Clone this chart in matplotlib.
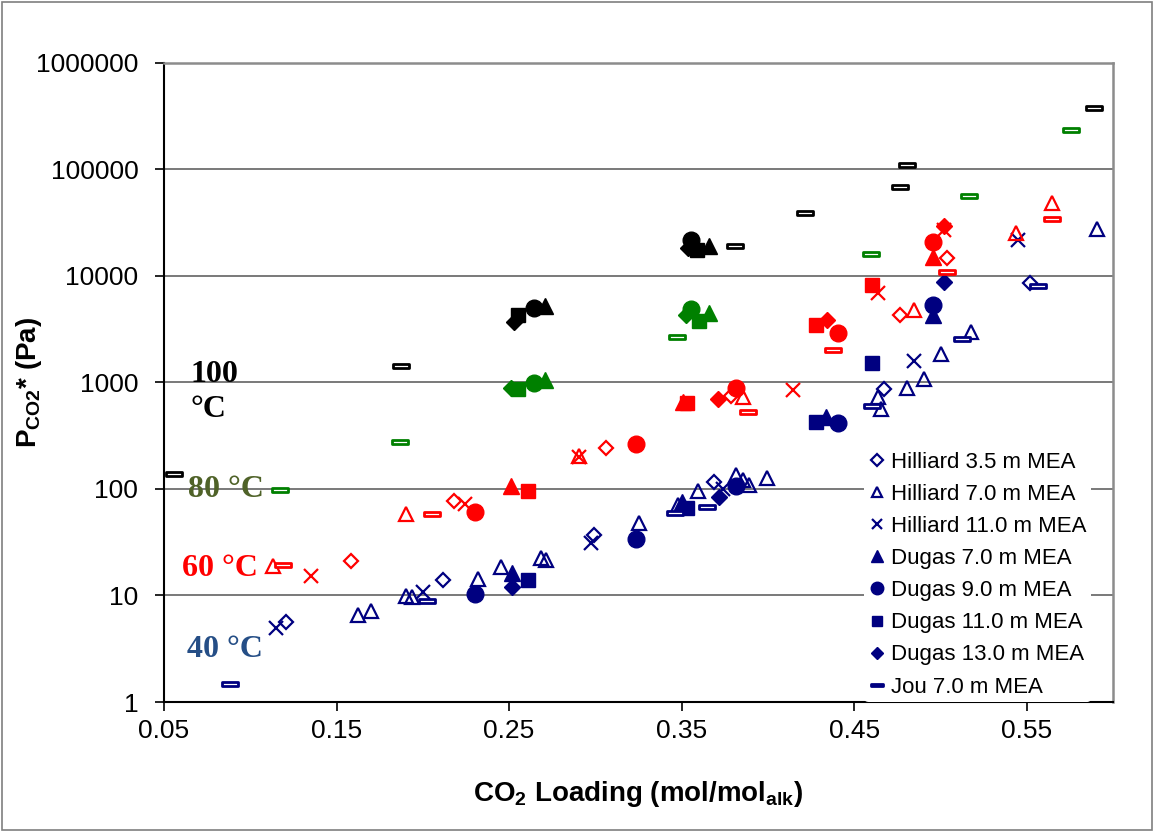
import matplotlib
matplotlib.use("Agg")
import matplotlib.pyplot as plt
from matplotlib.path import Path
from matplotlib.patches import Rectangle
from matplotlib.ticker import NullLocator

plt.rcParams.update({
    "font.family": "Liberation Sans",
    "mathtext.fontset": "custom",
    "mathtext.rm": "Liberation Sans:bold",
    "mathtext.bf": "Liberation Sans:bold",
})

# (loading, P_CO2*)
# 40 C
hill35_40 = [(0.1209, 5.6), (0.2115, 14), (0.2993, 37), (0.3688, 117), (0.4671, 869), (0.5516, 8540)]
hill70_40 = [(0.1623, 6.6), (0.1697, 7.1), (0.1903, 9.8), (0.1936, 9.6), (0.2318, 14.3), (0.2453, 18.5),
             (0.2685, 22.4), (0.2714, 21.5), (0.3253, 47.6), (0.3477, 70), (0.3595, 95), (0.3813, 135),
             (0.3857, 121), (0.389, 109), (0.3996, 126), (0.4638, 736), (0.4656, 560), (0.4806, 882),
             (0.4907, 1080), (0.5005, 1840), (0.5177, 3000), (0.5908, 27600)]
hill110_40 = [(0.1147, 5.0), (0.1999, 10.7), (0.2974, 30.9), (0.374, 101), (0.4845, 1590), (0.5447, 21800)]
dug70_40 = [(0.2517, 16.2), (0.3501, 76), (0.4334, 477), (0.4957, 4300)]
dug90_40 = [(0.2304, 10.3), (0.3234, 33.7), (0.3813, 107), (0.4407, 420), (0.4957, 5340)]
dug110_40 = [(0.2607, 14), (0.3533, 66), (0.4276, 428), (0.4604, 1515)]
dug130_40 = [(0.2517, 12.1), (0.3716, 84.7), (0.5019, 8850)]
jou_40 = [(0.0881, 1.47), (0.2025, 8.9), (0.3462, 59.5), (0.3645, 67.8), (0.4604, 606), (0.5124, 2560),
          (0.5568, 8110)]

# 60 C
hill35_60 = [(0.1585, 21), (0.2183, 77.6), (0.3064, 243), (0.3784, 752), (0.4768, 4300), (0.5038, 14900)]
hill70_60 = [(0.1131, 19), (0.1903, 58), (0.2906, 204), (0.3857, 736), (0.4845, 4800), (0.5437, 25200),
             (0.5645, 48800)]
hill110_60 = [(0.1354, 15.3), (0.2245, 72.3), (0.2906, 199), (0.4146, 845), (0.4637, 6870), (0.5019, 27000)]
dug70_60 = [(0.2513, 107), (0.3508, 651), (0.4957, 15200)]
dug90_60 = [(0.2304, 61), (0.3234, 263), (0.3813, 893), (0.4407, 2900), (0.4957, 21000)]
dug110_60 = [(0.2607, 96), (0.3533, 638), (0.4276, 3470), (0.4604, 8230)]
dug130_60 = [(0.3712, 695), (0.4343, 3860), (0.5019, 29700)]
jou_60 = [(0.1189, 19.3), (0.2052, 57.9), (0.3886, 525), (0.4376, 2006), (0.5038, 10970), (0.5648, 34300)]

# 80 C
dug70_80 = [(0.2709, 1056), (0.3659, 4470)]
dug90_80 = [(0.2646, 984), (0.3553, 4870)]
dug110_80 = [(0.2549, 864), (0.3601, 3800)]
dug130_80 = [(0.2511, 883), (0.3524, 4300)]
jou_80 = [(0.1174, 98), (0.1865, 278), (0.3475, 2675), (0.4598, 16100), (0.5167, 56000), (0.5758, 235000)]

# 100 C
dug70_100 = [(0.2709, 5260), (0.3659, 19100)]
dug90_100 = [(0.2646, 4980), (0.3557, 21800)]
dug110_100 = [(0.2549, 4300), (0.3591, 17500)]
dug130_100 = [(0.253, 3720), (0.3539, 18200)]
jou_100 = [(0.056, 138), (0.1874, 1429), (0.3807, 19000), (0.4214, 39000), (0.4768, 69000),
           (0.4806, 109000), (0.5887, 376000)]

legend_labels = ["Hilliard 3.5 m MEA", "Hilliard 7.0 m MEA", "Hilliard 11.0 m MEA", "Dugas 7.0 m MEA",
                 "Dugas 9.0 m MEA", "Dugas 11.0 m MEA", "Dugas 13.0 m MEA", "Jou 7.0 m MEA"]
y_ticks = [1, 10, 100, 1000, 10000, 100000, 1000000]
x_ticks = [0.05, 0.15, 0.25, 0.35, 0.45, 0.55]

NAVY, RED, GREEN, BLACK = "#000080", "#FF0000", "#008000", "#000000"

jou_mark = Path([(-1, -0.25), (1, -0.25), (1, 0.25), (-1, 0.25), (-1, -0.25)],
                [Path.MOVETO, Path.LINETO, Path.LINETO, Path.LINETO, Path.CLOSEPOLY])

# marker style per series kind
styles = {
    "h35": dict(marker="D", ms=7.5, filled=False, mew=1.6),
    "h70": dict(marker="^", ms=10, filled=False, mew=1.6),
    "h110": dict(marker="x", ms=10, filled=False, mew=1.6),
    "d70": dict(marker="^", ms=12, filled=True, mew=1),
    "d90": dict(marker="o", ms=12, filled=True, mew=1),
    "d110": dict(marker="s", ms=10.5, filled=True, mew=1),
    "d130": dict(marker="D", ms=8, filled=True, mew=1),
    "jou": dict(marker=jou_mark, ms=11, filled=False, mew=2.0),
}

fig = plt.figure(figsize=(11.54, 8.32), dpi=100)
ax = fig.add_axes([0.1421, 0.15625, 0.8224, 0.76805])


def draw(pts, kind, color, label=None):
    st = styles[kind]
    xs = [p[0] for p in pts]
    ys = [p[1] for p in pts]
    if kind == "jou":
        face = "white"
    else:
        face = color if st["filled"] else "none"
    line, = ax.plot(xs, ys, ls="none", marker=st["marker"], ms=st["ms"], mfc=face,
                    mec=color, mew=st["mew"], label=label, zorder=3)
    return line


groups = [
    (NAVY, [hill35_40, hill70_40, hill110_40, dug70_40, dug90_40, dug110_40, dug130_40, jou_40]),
    (RED, [hill35_60, hill70_60, hill110_60, dug70_60, dug90_60, dug110_60, dug130_60, jou_60]),
    (GREEN, [None, None, None, dug70_80, dug90_80, dug110_80, dug130_80, jou_80]),
    (BLACK, [None, None, None, dug70_100, dug90_100, dug110_100, dug130_100, jou_100]),
]
kinds = ["h35", "h70", "h110", "d70", "d90", "d110", "d130", "jou"]

handles = []
for color, series in groups:
    for kind, pts, lab in zip(kinds, series, legend_labels):
        if pts is None:
            continue
        h = draw(pts, kind, color, lab if color == NAVY else None)
        if color == NAVY:
            handles.append(h)

ax.set_yscale("log")
ax.set_ylim(1, 1e6)
ax.set_xlim(0.05, 0.6)
ax.set_yticks(y_ticks)
ax.set_yticklabels([str(v) for v in y_ticks])
ax.yaxis.set_minor_locator(NullLocator())
ax.set_xticks(x_ticks)
ax.set_xticklabels(["%.2f" % v for v in x_ticks])

ax.yaxis.grid(True, color="#555555", lw=1.1)
ax.set_axisbelow(True)
for side in ["left", "bottom"]:
    ax.spines[side].set_color("black")
    ax.spines[side].set_linewidth(1.5)
for side in ["top", "right"]:
    ax.spines[side].set_color("#8c8c8c")
    ax.spines[side].set_linewidth(1.8)

ax.tick_params(axis="both", direction="out", length=6.5, width=1.2, labelsize=19)
ax.tick_params(axis="y", pad=12)
ax.tick_params(axis="x", pad=6)

ax.set_ylabel("P$_\\mathrm{CO2}$* (Pa)", fontsize=20, fontweight="bold")
ax.yaxis.set_label_coords(-0.126, 0.5)
ax.set_xlabel("CO$_\\mathrm{2}$ Loading (mol/mol$_\\mathrm{alk}$)", fontsize=20, fontweight="bold",
              labelpad=26)

# temperature labels
tfont = dict(family="Liberation Serif", fontweight="bold", fontsize=23, va="baseline", ha="left")
ax.text(0.0652, 1011, "100", color="black", **tfont)
ax.text(0.0652, 474, "°C", color="black", **tfont)
ax.text(0.0641, 84, "80 °C", color="#4F6228", **tfont)
ax.text(0.0603, 15.2, "60 °C", color="#FF0000", **tfont)
ax.text(0.0632, 2.65, "40 °C", color="#254E86", **tfont)

leg = ax.legend(handles=handles, loc="lower left", bbox_to_anchor=(0.738, 0.0), fontsize=16,
                frameon=True, framealpha=1, facecolor="white", edgecolor="none",
                handlelength=0.7, handletextpad=0.3, labelspacing=0.5, borderpad=0.2,
                borderaxespad=0, markerscale=0.75)
leg.set_zorder(5)

fig.add_artist(Rectangle((0.002, 0.002), 0.996, 0.996, transform=fig.transFigure,
                         fill=False, ec="#7f7f7f", lw=1.2))

fig.savefig("out.png", dpi=100)
